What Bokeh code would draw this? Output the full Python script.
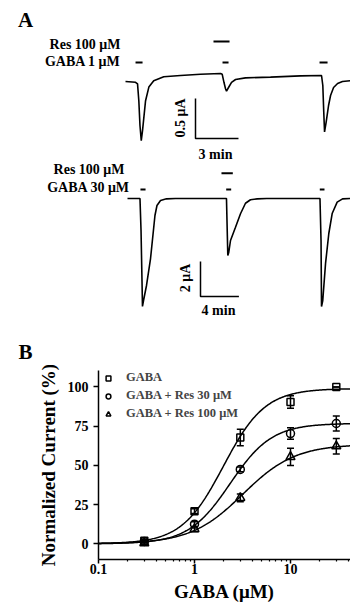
import numpy as np
from bokeh.plotting import figure
from bokeh.models import (Range1d, Label, ColumnDataSource, Whisker, Legend, LegendItem,
                          FixedTicker, TeeHead, CustomJSTickFormatter)
from bokeh.embed import file_html
from bokeh.resources import INLINE

FONT = "Liberation Serif"

# ---------------- Panel A, trace 1 (GABA 1 uM + Res 100 uM): time (min), current (uA)
t1 = [0.00, 0.70, 0.84, 0.93, 1.01, 1.10, 1.19, 1.40, 1.63, 1.97, 2.67, 3.84, 5.23, 6.63,
      6.75, 6.87, 6.98, 7.05, 7.19, 7.40, 7.68, 8.37, 10.12, 12.21, 13.68, 13.77, 13.83,
      13.89, 14.00, 14.17, 14.31, 14.52, 14.80, 15.14, 15.70]
i1 = [0.00, -0.01, -0.03, -0.24, -0.55, -0.74, -0.61, -0.24, -0.07, 0.01, 0.06, 0.075, 0.09, 0.10,
      0.09, -0.01, -0.09, -0.12, -0.075, -0.01, 0.025, 0.045, 0.055, 0.07, 0.075, -0.05, -0.36,
      -0.63, -0.51, -0.30, -0.175, -0.075, -0.025, 0.00, 0.01]
gaba1_on = [0.70, 6.77, 13.54]
gaba1_off = [1.19, 7.19, 14.10]
res1_on = [6.14]
res1_off = [7.26]

# ---------------- Panel A, trace 2 (GABA 30 uM + Res 100 uM)
t2 = [0.00, 1.30, 1.41, 1.51, 1.56, 1.67, 1.98, 2.40, 2.86, 3.07, 3.44, 4.06, 5.00,
      10.31, 10.40, 10.45, 10.55, 10.73, 11.25, 11.77, 12.29, 12.81, 13.51, 14.50,
      20.05, 20.16, 20.21, 20.34, 20.63, 20.97, 21.32, 21.84, 22.40, 23.30]
i2 = [0.00, 0.00, -1.83, -4.69, -6.17, -5.83, -4.97, -3.43, -0.97, -0.40, -0.11, -0.02, 0.00,
      0.00, -2.11, -3.26, -3.07, -2.40, -1.64, -0.87, -0.27, -0.07, -0.02, 0.00,
      0.00, -2.40, -6.17, -5.83, -3.71, -2.00, -0.86, -0.21, -0.02, 0.00]
gaba30_on = [1.35, 10.28, 20.03]
gaba30_off = [1.88, 10.80, 20.52]
res2_on = [9.79]
res2_off = [10.97]

# ---------------- Panel B: concentration-response
conc = [0.3, 1, 3, 10, 30]
gaba_mean = [1.9, 20.8, 67.8, 90.4, 100.0]
gaba_sem = [1.0, 1.5, 5.3, 4.0, 0.0]
res30_mean = [1.5, 12.5, 47.4, 70.3, 76.7]
res30_sem = [1.0, 1.5, 1.5, 3.7, 4.8]
res100_mean = [0.5, 9.4, 29.3, 55.4, 62.2]
res100_sem = [1.0, 1.5, 2.5, 5.5, 5.0]
series_names = ["GABA", "GABA + Res 30 μM", "GABA + Res 100 μM"]
# Hill fit parameters (Imax, EC50 in uM, Hill coefficient)
fit_imax = [99.0, 76.8, 63.5]
fit_ec50 = [2.0, 2.35, 3.2]
fit_nh = [2.0, 2.0, 1.6]
x_ticks = [0.1, 1, 10]
x_tick_labels = ["0.1", "1", "10"]
y_ticks = [0, 25, 50, 75, 100]

W = 350


def bare(w, h, xr, yr):
    p = figure(width=w, height=h, x_range=Range1d(*xr), y_range=Range1d(*yr),
               output_backend="svg", toolbar_location=None, min_border=0,
               x_axis_location=None, y_axis_location=None)
    p.outline_line_color = None
    p.xgrid.visible = False
    p.ygrid.visible = False
    p.background_fill_color = "white"
    p.border_fill_color = "white"
    return p


def label(p, x, y, text, size, align="center", angle=0.0):
    p.add_layout(Label(x=x, y=y, text=text, text_font=FONT, text_font_style="bold",
                       text_font_size=size, text_align=align, text_baseline="middle",
                       angle=angle, text_color="black"))


# ---- A1 (page rows 0..160): page px -> data
def a1x(px):
    return (px - 125) / 14.33


def a1y(py):
    return (81 - py) / 80.0


pA1 = bare(W, 160, (a1x(0), a1x(W)), (a1y(160), a1y(0)))
pA1.line(t1, i1, line_color="black", line_width=1.6)
pA1.segment(x0=gaba1_on, x1=gaba1_off, y0=[a1y(62)] * 3, y1=[a1y(62)] * 3, line_color="black", line_width=2)
pA1.segment(x0=res1_on, x1=res1_off, y0=[a1y(41)], y1=[a1y(41)], line_color="black", line_width=2)
sbx, sby = a1x(195), a1y(138)
pA1.line([sbx, sbx, sbx + 3.0], [sby + 0.5, sby, sby], line_color="black", line_width=1.5)
label(pA1, a1x(25), a1y(19.5), "A", "21px")
label(pA1, a1x(120), a1y(43.5), "Res 100 μM", "14px", "right")
label(pA1, a1x(120), a1y(61), "GABA 1 μM", "14px", "right")
label(pA1, a1x(180), a1y(117.5), "0.5 μA", "14px", "center", np.pi / 2)
label(pA1, a1x(215), a1y(153.5), "3 min", "14px")


# ---- A2 (page rows 160..365)
def a2x(px):
    return (px - 127) / 9.6


def a2y(py):
    return (198 - py) / 17.5


pA2 = bare(W, 205, (a2x(0), a2x(W)), (a2y(365), a2y(160)))
pA2.line(t2, i2, line_color="black", line_width=1.6)
pA2.segment(x0=gaba30_on, x1=gaba30_off, y0=[a2y(189)] * 3, y1=[a2y(189)] * 3, line_color="black", line_width=2)
pA2.segment(x0=res2_on, x1=res2_off, y0=[a2y(172.7)], y1=[a2y(172.7)], line_color="black", line_width=2)
sbx2, sby2 = a2x(200), a2y(296)
pA2.line([sbx2, sbx2, sbx2 + 4.0], [sby2 + 2.0, sby2, sby2], line_color="black", line_width=1.5)
label(pA2, a2x(124), a2y(168.5), "Res 100 μM", "14px", "right")
label(pA2, a2x(129.3), a2y(187), "GABA 30 μM", "14px", "right")
label(pA2, a2x(185), a2y(277.5), "2 μA", "14px", "center", np.pi / 2)
label(pA2, a2x(218), a2y(310), "4 min", "14px")
label(pA2, a2x(25), a2y(351.5), "B", "21px")

# ---- B (page rows 365..607)
xmax = 10 ** (-1 + 252 / 96.0)
pB = figure(width=W, height=242, x_axis_type="log", x_range=Range1d(0.1, xmax),
            y_range=Range1d(-10, 110.5), output_backend="svg", toolbar_location=None,
            min_border_left=98, min_border_right=0, min_border_top=5, min_border_bottom=48)
pB.outline_line_color = None
pB.xgrid.visible = False
pB.ygrid.visible = False
pB.background_fill_color = "white"
pB.border_fill_color = "white"

xfit = np.logspace(-1, np.log10(xmax), 300)
means = [gaba_mean, res30_mean, res100_mean]
sems = [gaba_sem, res30_sem, res100_sem]
markers = ["square", "circle", "triangle"]
msize = [7, 8, 9]
for k in range(3):
    yfit = fit_imax[k] / (1 + (fit_ec50[k] / xfit) ** fit_nh[k])
    pB.line(xfit, yfit, line_color="black", line_width=1.5)
renders = []
for k in range(3):
    m = np.array(means[k]); s = np.array(sems[k])
    src = ColumnDataSource(dict(x=conc, y=m, upper=m + s, lower=m - s))
    w = Whisker(source=src, base="x", upper="upper", lower="lower", line_color="black", line_width=1.5,
                upper_head=TeeHead(size=7, line_width=1.5, line_color="black"),
                lower_head=TeeHead(size=7, line_width=1.5, line_color="black"))
    pB.add_layout(w)
    r = pB.scatter("x", "y", source=src, marker=markers[k], size=msize[k], fill_color=None,
                   line_color="black", line_width=1.5)
    renders.append(r)

legend = Legend(items=[LegendItem(label=series_names[k], renderers=[renders[k]]) for k in range(3)],
                location="top_left", border_line_color=None, background_fill_alpha=0,
                margin=0, padding=4, spacing=3, glyph_width=20, glyph_height=12, label_height=12,
                label_standoff=8, label_text_font=FONT, label_text_font_style="bold",
                label_text_font_size="12.5px")
pB.add_layout(legend)

for ax in (pB.xaxis[0], pB.yaxis[0]):
    ax.axis_line_width = 1.5
    ax.major_tick_line_width = 1.5
    ax.minor_tick_line_width = 1.2
    ax.major_tick_in = 0
    ax.minor_tick_in = 0
    ax.major_label_text_font = FONT
    ax.major_label_text_font_style = "bold"
    ax.major_label_text_font_size = "14px"
    ax.axis_label_text_font = FONT
    ax.axis_label_text_font_style = "bold"
    ax.axis_label_text_color = "black"
    ax.major_label_text_color = "black"

pB.xaxis.ticker = FixedTicker(ticks=x_ticks,
                              minor_ticks=[0.2, 0.3, 0.4, 0.5, 0.6, 0.7, 0.8, 0.9,
                                           2, 3, 4, 5, 6, 7, 8, 9, 20, 30, 40])
pB.xaxis.formatter = CustomJSTickFormatter(args=dict(tvals=x_ticks, tlabels=x_tick_labels),
                                           code="const j = tvals.indexOf(tick); return j >= 0 ? tlabels[j] : String(tick);")
pB.xaxis.major_tick_out = 4
pB.xaxis.minor_tick_out = 2
pB.xaxis.major_label_standoff = 0
pB.xaxis.axis_label = "GABA (μM)"
pB.xaxis.axis_label_text_font_size = "19px"
pB.xaxis.axis_label_standoff = 4

pB.yaxis.ticker = FixedTicker(ticks=y_ticks, minor_ticks=[])
pB.yaxis.major_tick_out = 5
pB.yaxis.major_label_standoff = 5
pB.yaxis.axis_label = "Normalized Current (%)"
pB.yaxis.axis_label_text_font_size = "19px"
pB.yaxis.axis_label_standoff = 6

open("out.html", "w").write(file_html([pA1, pA2, pB], INLINE))
